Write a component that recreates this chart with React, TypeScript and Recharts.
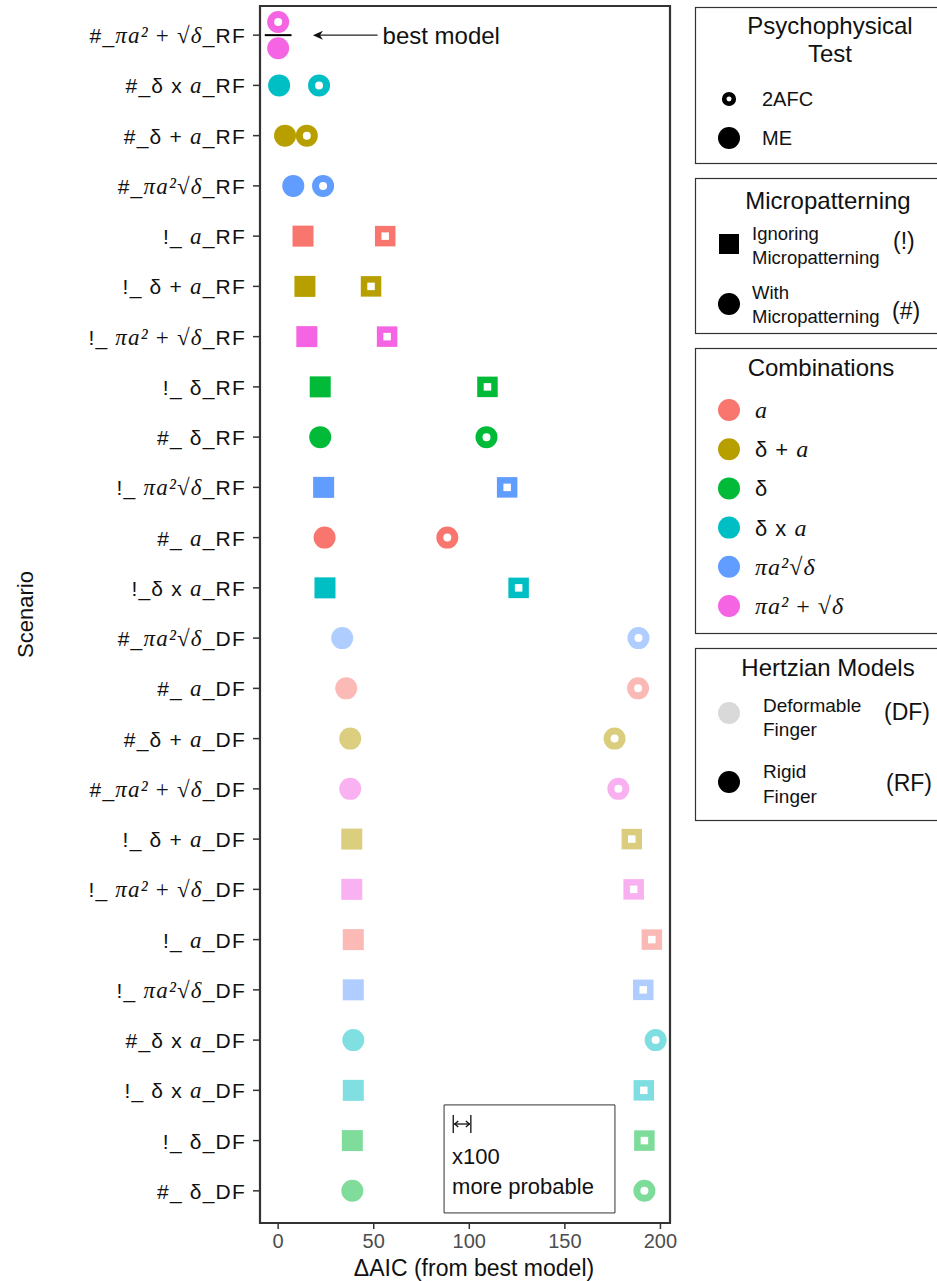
import React from 'react';
import {
  ScatterChart,
  Scatter,
  XAxis,
  YAxis,
  ReferenceArea,
  ReferenceLine,
} from 'recharts';

// rows top to bottom
const scenarioPrefix = [
  '#_', '#_', '#_', '#_', '!_ ', '!_ ', '!_ ', '!_ ', '#_ ', '!_ ', '#_ ', '!_',
  '#_', '#_ ', '#_', '#_', '!_ ', '!_ ', '!_ ', '!_ ', '#_', '!_ ', '!_ ', '#_ ',
];
const scenarioCombo = [
  'πa² + √δ', 'δ x a', 'δ + a', 'πa²√δ', 'a', 'δ + a', 'πa² + √δ', 'δ', 'δ', 'πa²√δ', 'a', 'δ x a',
  'πa²√δ', 'a', 'δ + a', 'πa² + √δ', 'δ + a', 'πa² + √δ', 'a', 'πa²√δ', 'δ x a', 'δ x a', 'δ', 'δ',
];
const scenarioFinger = [
  'RF', 'RF', 'RF', 'RF', 'RF', 'RF', 'RF', 'RF', 'RF', 'RF', 'RF', 'RF',
  'DF', 'DF', 'DF', 'DF', 'DF', 'DF', 'DF', 'DF', 'DF', 'DF', 'DF', 'DF',
];
const meValues = [
  0, 0.5, 3.6, 7.9, 13, 14, 15, 22, 22, 23.8, 24.3, 24.5,
  33.5, 35.6, 37.7, 37.7, 38.5, 38.5, 39.3, 39.3, 39.3, 39.3, 38.8, 38.8,
];
const afcValues = [
  0, 21.4, 15, 23.5, 56, 48.6, 57, 109.5, 109, 119.8, 88.5, 125.8,
  188.5, 188.3, 176, 178, 185, 186, 195.5, 191, 197.5, 191.3, 191.6, 191.6,
];
const xTicks = [0, 50, 100, 150, 200];
const combinations = ['a', 'δ + a', 'δ', 'δ x a', 'πa²√δ', 'πa² + √δ'];
const comboColors = ['#F8766D', '#B79F00', '#00BA38', '#00BFC4', '#619CFF', '#F564E3'];

const xDomain = [-9.5, 205];
const yDomain = [0.42, 24.64];
const rowTicks = scenarioCombo.map((_, i) => i + 1);
const probableDelta = 2 * Math.log(100); // ΔAIC for x100 more probable

const SANS = '"Liberation Sans", Arial, sans-serif';
const SERIF = '"Liberation Serif", "DejaVu Serif", serif';

const colorOf = (combo: string) => comboColors[combinations.indexOf(combo)];

const buildPoints = (test: string) =>
  scenarioCombo.map((combo, i) => {
    const tie = meValues[i] === afcValues[i];
    const shift = tie ? (test === 'ME' ? 0.26 : -0.26) : 0;
    return {
      x: test === 'ME' ? meValues[i] : afcValues[i],
      y: i + 1 + shift,
      combo,
      finger: scenarioFinger[i],
      pattern: scenarioPrefix[i][0],
      test,
    };
  });

const mePoints = buildPoints('ME');
const afcPoints = buildPoints('2AFC');

function Marker(props: any) {
  const { cx, cy, payload } = props;
  const color = colorOf(payload.combo);
  const op = payload.finger === 'DF' ? 0.5 : 1;
  if (payload.pattern === '#') {
    if (payload.test === 'ME') return <circle cx={cx} cy={cy} r={11} fill={color} opacity={op} />;
    return <circle cx={cx} cy={cy} r={7.5} fill="#fff" stroke={color} strokeWidth={7} opacity={op} />;
  }
  if (payload.test === 'ME')
    return <rect x={cx - 10.5} y={cy - 10.5} width={21} height={21} fill={color} opacity={op} />;
  return <rect x={cx - 7} y={cy - 7} width={14} height={14} fill="#fff" stroke={color} strokeWidth={6.5} opacity={op} />;
}

function formula(combo: string, size: number) {
  const it = { fontFamily: SERIF, fontStyle: 'italic', fontSize: size } as const;
  switch (combo) {
    case 'a':
      return <tspan {...it}>a</tspan>;
    case 'δ + a':
      return (
        <>
          <tspan>δ + </tspan>
          <tspan {...it}>a</tspan>
        </>
      );
    case 'δ x a':
      return (
        <>
          <tspan>δ x </tspan>
          <tspan {...it}>a</tspan>
        </>
      );
    case 'δ':
      return <tspan>δ</tspan>;
    case 'πa²√δ':
      return <tspan {...it}>πa²√δ</tspan>;
    default:
      return (
        <>
          <tspan {...it}>πa²</tspan>
          <tspan fontFamily={SERIF} fontSize={size}> + √</tspan>
          <tspan {...it}>δ</tspan>
        </>
      );
  }
}

function ScenarioTick(props: any) {
  const { x, y, payload } = props;
  const i = payload.value - 1;
  return (
    <text x={x} y={y} textAnchor="end" dominantBaseline="central" fontSize={21} fill="#111" fontFamily={SANS} letterSpacing={1.2}>
      <tspan>{scenarioPrefix[i]}</tspan>
      {formula(scenarioCombo[i], 23)}
      <tspan>_{scenarioFinger[i]}</tspan>
    </text>
  );
}

function BestModelArrow(props: any) {
  const { x1, y1, x2, y2 } = props;
  return (
    <g>
      <line x1={x1} y1={y1} x2={x2 + 4} y2={y2} stroke="#222" strokeWidth={1.3} />
      <path d={`M${x2},${y2} L${x2 + 10},${y2 - 4.5} L${x2 + 7},${y2} L${x2 + 10},${y2 + 4.5} Z`} fill="#111" />
      <text x={x1 + 5} y={y1} dominantBaseline="central" fontSize={24} fontFamily={SANS} fill="#111">
        best model
      </text>
    </g>
  );
}

function ScaleBar(props: any) {
  const { x1, y1, x2 } = props;
  const y = y1;
  return (
    <g stroke="#111" strokeWidth={1.3} fill="none">
      <line x1={x1} y1={y - 9} x2={x1} y2={y + 9} />
      <line x1={x2} y1={y - 9} x2={x2} y2={y + 9} />
      <line x1={x1 + 1} y1={y} x2={x2 - 1} y2={y} />
      <path d={`M${x1 + 5},${y - 3} L${x1 + 1.5},${y} L${x1 + 5},${y + 3}`} />
      <path d={`M${x2 - 5},${y - 3} L${x2 - 1.5},${y} L${x2 - 5},${y + 3}`} />
    </g>
  );
}

function InsetText(props: any) {
  const { x, y } = props.viewBox;
  return (
    <g fontFamily={SANS} fontSize={22} fill="#111">
      <text x={x + 8} y={y + 52} dominantBaseline="central">x100</text>
      <text x={x + 8} y={y + 82} dominantBaseline="central">more probable</text>
    </g>
  );
}

function LegendPanel() {
  const box = (y: number, h: number) => (
    <rect x={695.5} y={y + 0.5} width={260} height={h} fill="#fff" stroke="#333" strokeWidth={1.2} />
  );
  const title = { fontSize: 24, textAnchor: 'middle' as const, dominantBaseline: 'central' as const };
  const item = { dominantBaseline: 'central' as const };
  return (
    <svg width={937} height={1281} style={{ position: 'absolute', left: 0, top: 0, pointerEvents: 'none' }}>
      <g fontFamily={SANS} fill="#111">
        {box(7, 156)}
        <text x={830} y={25} {...title}>Psychophysical</text>
        <text x={830} y={53} {...title}>Test</text>
        <circle cx={729} cy={99} r={4.8} fill="#fff" stroke="#000" strokeWidth={4.6} />
        <text x={762} y={99} fontSize={20} {...item}>2AFC</text>
        <circle cx={729} cy={138} r={11} fill="#000" />
        <text x={762} y={138} fontSize={20} {...item}>ME</text>

        {box(178, 155)}
        <text x={828} y={200} {...title}>Micropatterning</text>
        <rect x={719} y={234} width={20} height={20} fill="#000" />
        <text x={752} y={233} fontSize={18.5} {...item}>Ignoring</text>
        <text x={752} y={257} fontSize={18.5} {...item}>Micropatterning</text>
        <text x={893} y={241} fontSize={23} {...item}>(!)</text>
        <circle cx={729} cy={304} r={11} fill="#000" />
        <text x={752} y={292} fontSize={18.5} {...item}>With</text>
        <text x={752} y={316} fontSize={18.5} {...item}>Micropatterning</text>
        <text x={892} y={311} fontSize={23} {...item}>(#)</text>

        {box(348, 285)}
        <text x={821} y={367} {...title}>Combinations</text>
        {combinations.map((c, k) => (
          <g key={c}>
            <circle cx={729} cy={410 + k * 39.2} r={11} fill={comboColors[k]} />
            <text x={755} y={410 + k * 39.2} fontSize={22} letterSpacing={1} {...item}>
              {formula(c, 24)}
            </text>
          </g>
        ))}

        {box(648, 172)}
        <text x={828} y={667} {...title}>Hertzian Models</text>
        <circle cx={729} cy={713} r={11} fill="#d9d9d9" />
        <text x={763} y={705} fontSize={19} {...item}>Deformable</text>
        <text x={763} y={729} fontSize={19} {...item}>Finger</text>
        <text x={884} y={712} fontSize={23} {...item}>(DF)</text>
        <circle cx={729} cy={782} r={11} fill="#000" />
        <text x={763} y={771} fontSize={19} {...item}>Rigid</text>
        <text x={763} y={796} fontSize={19} {...item}>Finger</text>
        <text x={886} y={783} fontSize={23} {...item}>(RF)</text>
      </g>
    </svg>
  );
}

export default function App() {
  return (
    <div style={{ position: 'absolute', left: 0, top: 0, width: 937, height: 1281, overflow: 'hidden', background: '#fff' }}>
      <ScatterChart
        width={937}
        height={1281}
        margin={{ top: 6, right: 267, bottom: 0, left: 0 }}
        style={{ fontFamily: SANS }}
      >
        <XAxis
          type="number"
          dataKey="x"
          domain={xDomain}
          ticks={xTicks}
          allowDataOverflow
          height={58}
          axisLine={false}
          tickLine={{ stroke: '#333', strokeWidth: 1.5 }}
          tickSize={6}
          tickMargin={5}
          tick={{ fill: '#4d4d4d', fontSize: 20, fontFamily: SANS }}
          label={{
            content: (p: any) => (
              <text
                x={p.viewBox.x + p.viewBox.width / 2 + 9}
                y={p.viewBox.y + 45}
                textAnchor="middle"
                dominantBaseline="central"
                fontSize={23}
                fontFamily={SANS}
                fill="#111"
              >
                ΔAIC (from best model)
              </text>
            ),
          }}
        />
        <YAxis
          type="number"
          dataKey="y"
          domain={yDomain}
          ticks={rowTicks}
          interval={0}
          reversed
          allowDataOverflow
          width={260}
          axisLine={false}
          tickLine={{ stroke: '#333', strokeWidth: 1.5 }}
          tickSize={7}
          tickMargin={7}
          tick={<ScenarioTick />}
          label={{
            content: (p: any) => (
              <text
                transform={`translate(${p.viewBox.x + 25},${p.viewBox.y + p.viewBox.height / 2}) rotate(-90)`}
                textAnchor="middle"
                dominantBaseline="central"
                fontSize={22}
                fontFamily={SANS}
                fill="#111"
              >
                Scenario
              </text>
            ),
          }}
        />
        <ReferenceArea
          x1={xDomain[0]}
          x2={xDomain[1]}
          y1={yDomain[0]}
          y2={yDomain[1]}
          fill="none"
          fillOpacity={0}
          stroke="#333"
          strokeWidth={2.2}
          ifOverflow="visible"
        />
        <ReferenceArea
          x1={86.8}
          x2={176.2}
          y1={22.29}
          y2={24.44}
          fill="#fff"
          fillOpacity={1}
          stroke="#333"
          strokeWidth={1}
          label={<InsetText />}
        />
        <ReferenceLine
          segment={[
            { x: 91.6, y: 22.67 },
            { x: 91.6 + probableDelta, y: 22.67 },
          ]}
          shape={<ScaleBar />}
        />
        <Scatter data={afcPoints} shape={<Marker />} isAnimationActive={false} />
        <Scatter data={mePoints} shape={<Marker />} isAnimationActive={false} />
        <ReferenceLine
          segment={[
            { x: -7, y: 1 },
            { x: 7, y: 1 },
          ]}
          stroke="#000"
          strokeWidth={2}
        />
        <ReferenceLine
          segment={[
            { x: 52, y: 1 },
            { x: 18.2, y: 1 },
          ]}
          shape={<BestModelArrow />}
        />
      </ScatterChart>
      <LegendPanel />
    </div>
  );
}
